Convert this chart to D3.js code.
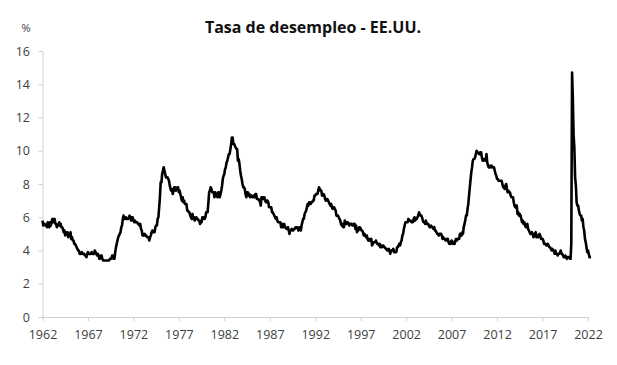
<!DOCTYPE html>
<html>
<head>
<meta charset="utf-8">
<script src="https://cdn.jsdelivr.net/npm/d3@7"></script>
<style>
  body { margin: 0; background: #fff; }
  svg { display: block; font-family: "Open Sans", "Liberation Sans", sans-serif; }
</style>
</head>
<body>
<div id="chart"></div>
<script>
var svgWidth = 617;
var svgHeight = 365;

var margin = { top: 51, right: 29, bottom: 48, left: 42.5 };
var width = svgWidth - margin.left - margin.right;
var height = svgHeight - margin.top - margin.bottom;

// Monthly unemployment rate (%), Jan 1962 onward
var startYear = 1962;
var rates = [
  5.8,5.5,5.6,5.6,5.5,5.5,5.4,5.7,5.6,5.4,5.7,5.5,
  5.7,5.9,5.7,5.7,5.9,5.6,5.6,5.4,5.5,5.5,5.7,5.5,
  5.6,5.4,5.4,5.3,5.1,5.2,4.9,5.0,5.1,5.1,4.8,5.0,
  4.9,5.1,4.7,4.8,4.6,4.6,4.4,4.4,4.3,4.2,4.1,4.0,
  4.0,3.8,3.8,3.8,3.9,3.8,3.8,3.8,3.7,3.7,3.6,3.8,
  3.9,3.8,3.8,3.8,3.8,3.9,3.8,3.8,3.8,4.0,3.9,3.8,
  3.7,3.8,3.7,3.5,3.5,3.7,3.7,3.5,3.4,3.4,3.4,3.4,
  3.4,3.4,3.4,3.4,3.4,3.5,3.5,3.5,3.7,3.7,3.5,3.5,
  3.9,4.2,4.4,4.6,4.8,4.9,5.0,5.1,5.4,5.5,5.9,6.1,
  5.9,5.9,6.0,5.9,5.9,5.9,6.0,6.1,6.0,5.8,6.0,6.0,
  5.8,5.7,5.8,5.7,5.7,5.7,5.6,5.6,5.5,5.6,5.3,5.2,
  4.9,5.0,4.9,5.0,4.9,4.9,4.8,4.8,4.8,4.6,4.8,4.9,
  5.1,5.2,5.1,5.1,5.1,5.4,5.5,5.5,5.9,6.0,6.6,7.2,
  8.1,8.1,8.6,8.8,9.0,8.8,8.6,8.4,8.4,8.4,8.3,8.2,
  7.9,7.7,7.6,7.7,7.4,7.6,7.8,7.8,7.6,7.7,7.8,7.8,
  7.5,7.6,7.4,7.2,7.0,7.2,6.9,7.0,6.8,6.8,6.8,6.4,
  6.4,6.3,6.3,6.1,6.0,5.9,6.2,5.9,6.0,5.8,5.9,6.0,
  5.9,5.9,5.8,5.8,5.6,5.7,5.7,6.0,5.9,6.0,5.9,6.0,
  6.3,6.3,6.3,6.9,7.5,7.6,7.8,7.7,7.5,7.5,7.5,7.2,
  7.5,7.4,7.4,7.2,7.5,7.5,7.2,7.4,7.6,7.9,8.3,8.5,
  8.6,8.9,9.0,9.3,9.4,9.6,9.8,9.8,10.1,10.4,10.8,10.8,
  10.4,10.4,10.3,10.2,10.1,10.1,9.4,9.5,9.2,8.8,8.5,8.3,
  8.0,7.8,7.8,7.7,7.4,7.2,7.5,7.5,7.3,7.4,7.2,7.3,
  7.3,7.2,7.2,7.3,7.2,7.4,7.4,7.1,7.1,7.1,7.0,7.0,
  6.7,7.2,7.2,7.1,7.2,7.2,7.0,6.9,7.0,7.0,6.9,6.6,
  6.6,6.6,6.6,6.3,6.3,6.2,6.1,6.0,5.9,6.0,5.8,5.7,
  5.7,5.7,5.7,5.4,5.6,5.4,5.4,5.6,5.4,5.4,5.3,5.3,
  5.4,5.2,5.0,5.2,5.2,5.3,5.2,5.2,5.3,5.3,5.4,5.4,
  5.4,5.3,5.2,5.4,5.4,5.2,5.5,5.7,5.9,5.9,6.2,6.3,
  6.4,6.6,6.8,6.7,6.9,6.9,6.8,6.9,6.9,7.0,7.0,7.3,
  7.3,7.4,7.4,7.4,7.6,7.8,7.7,7.6,7.6,7.3,7.4,7.4,
  7.3,7.1,7.0,7.1,7.1,7.0,6.9,6.8,6.7,6.8,6.6,6.5,
  6.6,6.6,6.5,6.4,6.1,6.1,6.1,6.0,5.9,5.8,5.6,5.5,
  5.6,5.4,5.4,5.8,5.6,5.6,5.7,5.7,5.6,5.5,5.6,5.6,
  5.6,5.5,5.5,5.6,5.6,5.3,5.5,5.1,5.2,5.2,5.4,5.4,
  5.3,5.2,5.2,5.1,4.9,5.0,4.9,4.8,4.9,4.7,4.6,4.7,
  4.6,4.6,4.7,4.3,4.4,4.5,4.5,4.5,4.6,4.5,4.4,4.4,
  4.3,4.4,4.2,4.3,4.2,4.3,4.3,4.2,4.2,4.1,4.1,4.0,
  4.0,4.1,4.0,3.8,4.0,4.0,4.0,4.1,3.9,3.9,3.9,3.9,
  4.2,4.2,4.3,4.4,4.3,4.5,4.6,4.9,5.0,5.3,5.5,5.7,
  5.7,5.7,5.7,5.9,5.8,5.8,5.8,5.7,5.7,5.7,5.9,6.0,
  5.8,5.9,5.9,6.0,6.1,6.3,6.2,6.1,6.1,6.0,5.8,5.7,
  5.7,5.6,5.8,5.6,5.6,5.6,5.5,5.4,5.4,5.5,5.4,5.4,
  5.3,5.4,5.2,5.2,5.1,5.0,5.0,4.9,5.0,5.0,5.0,4.9,
  4.7,4.8,4.7,4.7,4.6,4.6,4.7,4.7,4.5,4.4,4.5,4.4,
  4.6,4.5,4.4,4.5,4.4,4.6,4.7,4.6,4.7,4.7,4.7,5.0,
  5.0,4.9,5.1,5.0,5.4,5.6,5.8,6.1,6.1,6.5,6.8,7.3,
  7.8,8.3,8.7,9.0,9.4,9.5,9.5,9.6,9.8,10.0,9.9,9.9,
  9.8,9.8,9.9,9.9,9.6,9.4,9.4,9.5,9.5,9.4,9.8,9.3,
  9.1,9.0,9.0,9.1,9.0,9.1,9.0,9.0,9.0,8.8,8.6,8.5,
  8.3,8.3,8.2,8.2,8.2,8.2,8.2,8.0,7.8,7.8,7.7,7.9,
  8.0,7.7,7.5,7.6,7.5,7.5,7.3,7.2,7.2,7.2,6.9,6.7,
  6.6,6.7,6.7,6.2,6.3,6.1,6.2,6.1,5.9,5.7,5.8,5.6,
  5.7,5.5,5.4,5.4,5.6,5.3,5.2,5.1,5.0,5.0,5.1,5.0,
  4.8,4.9,5.0,5.1,4.8,4.9,4.8,4.9,5.0,4.9,4.7,4.7,
  4.7,4.6,4.4,4.4,4.4,4.3,4.3,4.4,4.3,4.2,4.2,4.1,
  4.0,4.1,4.0,4.0,3.8,4.0,3.8,3.8,3.7,3.8,3.8,3.9,
  4.0,3.8,3.8,3.7,3.6,3.6,3.7,3.6,3.5,3.6,3.6,3.6,
  3.5,3.5,4.4,14.7,13.2,11.0,10.2,8.4,7.9,6.9,6.7,6.7,
  6.4,6.2,6.1,6.1,5.8,5.9,5.4,5.2,4.7,4.5,4.2,3.9,
  4.0,3.8,3.6,3.6,3.6
];

var tickYears = [1962, 1967, 1972, 1977, 1982, 1987, 1992, 1997, 2002, 2007, 2012, 2017, 2022];
var yTicks = [0, 2, 4, 6, 8, 10, 12, 14, 16];

var data = rates.map(function(v, i) {
  return { date: new Date(startYear + Math.floor(i / 12), i % 12, 1), value: v };
});

var svg = d3.select("#chart")
  .append("svg")
  .attr("width", svgWidth)
  .attr("height", svgHeight);

var chart = svg.append("g")
  .attr("transform", `translate(${margin.left}, ${margin.top})`);

var x = d3.scaleTime()
  .domain([new Date(1962, 0, 1), new Date(2022, 0, 1)])
  .range([0, width]);

var y = d3.scaleLinear()
  .domain([0, 16])
  .range([height, 0]);

// Axes
var xAxis = chart.append("g")
  .attr("transform", `translate(0, ${height})`)
  .call(d3.axisBottom(x)
    .tickValues(tickYears.map(function(yr) { return new Date(yr, 0, 1); }))
    .tickFormat(d3.timeFormat("%Y"))
    .tickSize(4)
    .tickSizeOuter(0));

var yAxis = chart.append("g")
  .call(d3.axisLeft(y)
    .tickValues(yTicks)
    .tickSize(4)
    .tickSizeOuter(0));

[xAxis, yAxis].forEach(function(a) {
  a.select(".domain").attr("stroke", "#d0d0d0");
  a.selectAll(".tick line").attr("stroke", "#d0d0d0");
  a.selectAll("text")
    .attr("fill", "#404040")
    .attr("font-size", "12.5px")
    .attr("font-family", "'Open Sans', sans-serif");
});
xAxis.selectAll("text").attr("dy", "0").attr("y", 22);
yAxis.selectAll("text").attr("x", -12.5);

// Line
var line = d3.line()
  .x(function(d) { return x(d.date); })
  .y(function(d) { return y(d.value); });

chart.append("path")
  .datum(data)
  .attr("fill", "none")
  .attr("stroke", "#000")
  .attr("stroke-width", 2.6)
  .attr("stroke-linejoin", "round")
  .attr("d", line);

// Title and unit
svg.append("text")
  .attr("x", 313)
  .attr("y", 33)
  .attr("text-anchor", "middle")
  .attr("font-size", "16px")
  .attr("font-weight", "bold")
  .attr("fill", "#111")
  .text("Tasa de desempleo - EE.UU.");

svg.append("text")
  .attr("x", 26)
  .attr("y", 32)
  .attr("text-anchor", "middle")
  .attr("font-size", "11px")
  .attr("fill", "#404040")
  .text("%");
</script>
</body>
</html>
